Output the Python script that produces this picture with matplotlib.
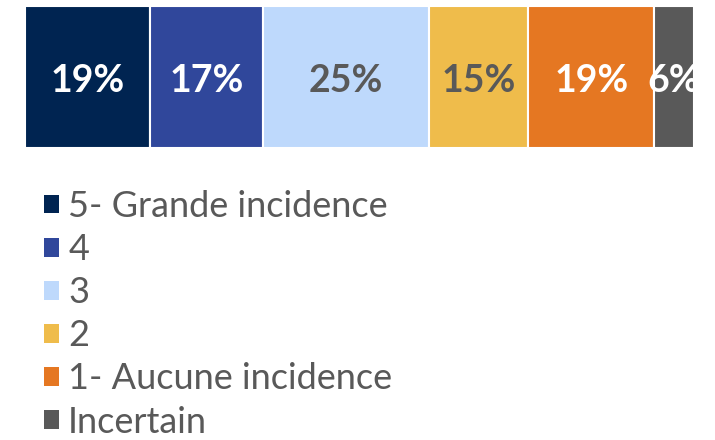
import matplotlib
matplotlib.use("Agg")
import matplotlib.pyplot as plt
from matplotlib.patches import Patch

categories = ["5- Grande incidence", "4", "3", "2", "1- Aucune incidence", "Incertain"]
values = [19, 17, 25, 15, 19, 6]
labels = ["19%", "17%", "25%", "15%", "19%", "6%"]
colors = ["#002451", "#30479B", "#BED9FC", "#EFBC4B", "#E57722", "#595959"]
text_colors = ["white", "white", "#595959", "#595959", "white", "white"]

W, H = 715, 440
fig = plt.figure(figsize=(W / 100, H / 100), dpi=100)
ax = fig.add_axes([24.5 / W, 1 - 148 / H, 669.5 / W, 142 / H])
ax.set_xlim(0, sum(values))
ax.set_ylim(-0.5, 0.5)
ax.axis("off")

left = 0
for v, c, lab, tc in zip(values, colors, labels, text_colors):
    bars = ax.barh(0, v, left=left, height=1.0, color=c, edgecolor="white", linewidth=1.5)
    t = ax.text(left + v / 2, -0.03, lab, ha="center", va="center", color=tc,
                fontsize=27, fontweight="bold", family=["Lato", "DejaVu Sans"])
    t.set_clip_path(bars[0])
    left += v

handles = [Patch(facecolor=c, edgecolor="none") for c in colors]
leg = fig.legend(handles, categories, loc="upper left", bbox_to_anchor=(44 / W, 1 - 190 / H),
                 frameon=False, prop={"family": ["Lato", "DejaVu Sans"], "size": 26},
                 handlelength=0.42, handleheight=0.42, handletextpad=0.25,
                 labelspacing=0.28, borderpad=0, borderaxespad=0)
for t in leg.get_texts():
    t.set_color("#595959")

fig.savefig("out.png", dpi=100)
